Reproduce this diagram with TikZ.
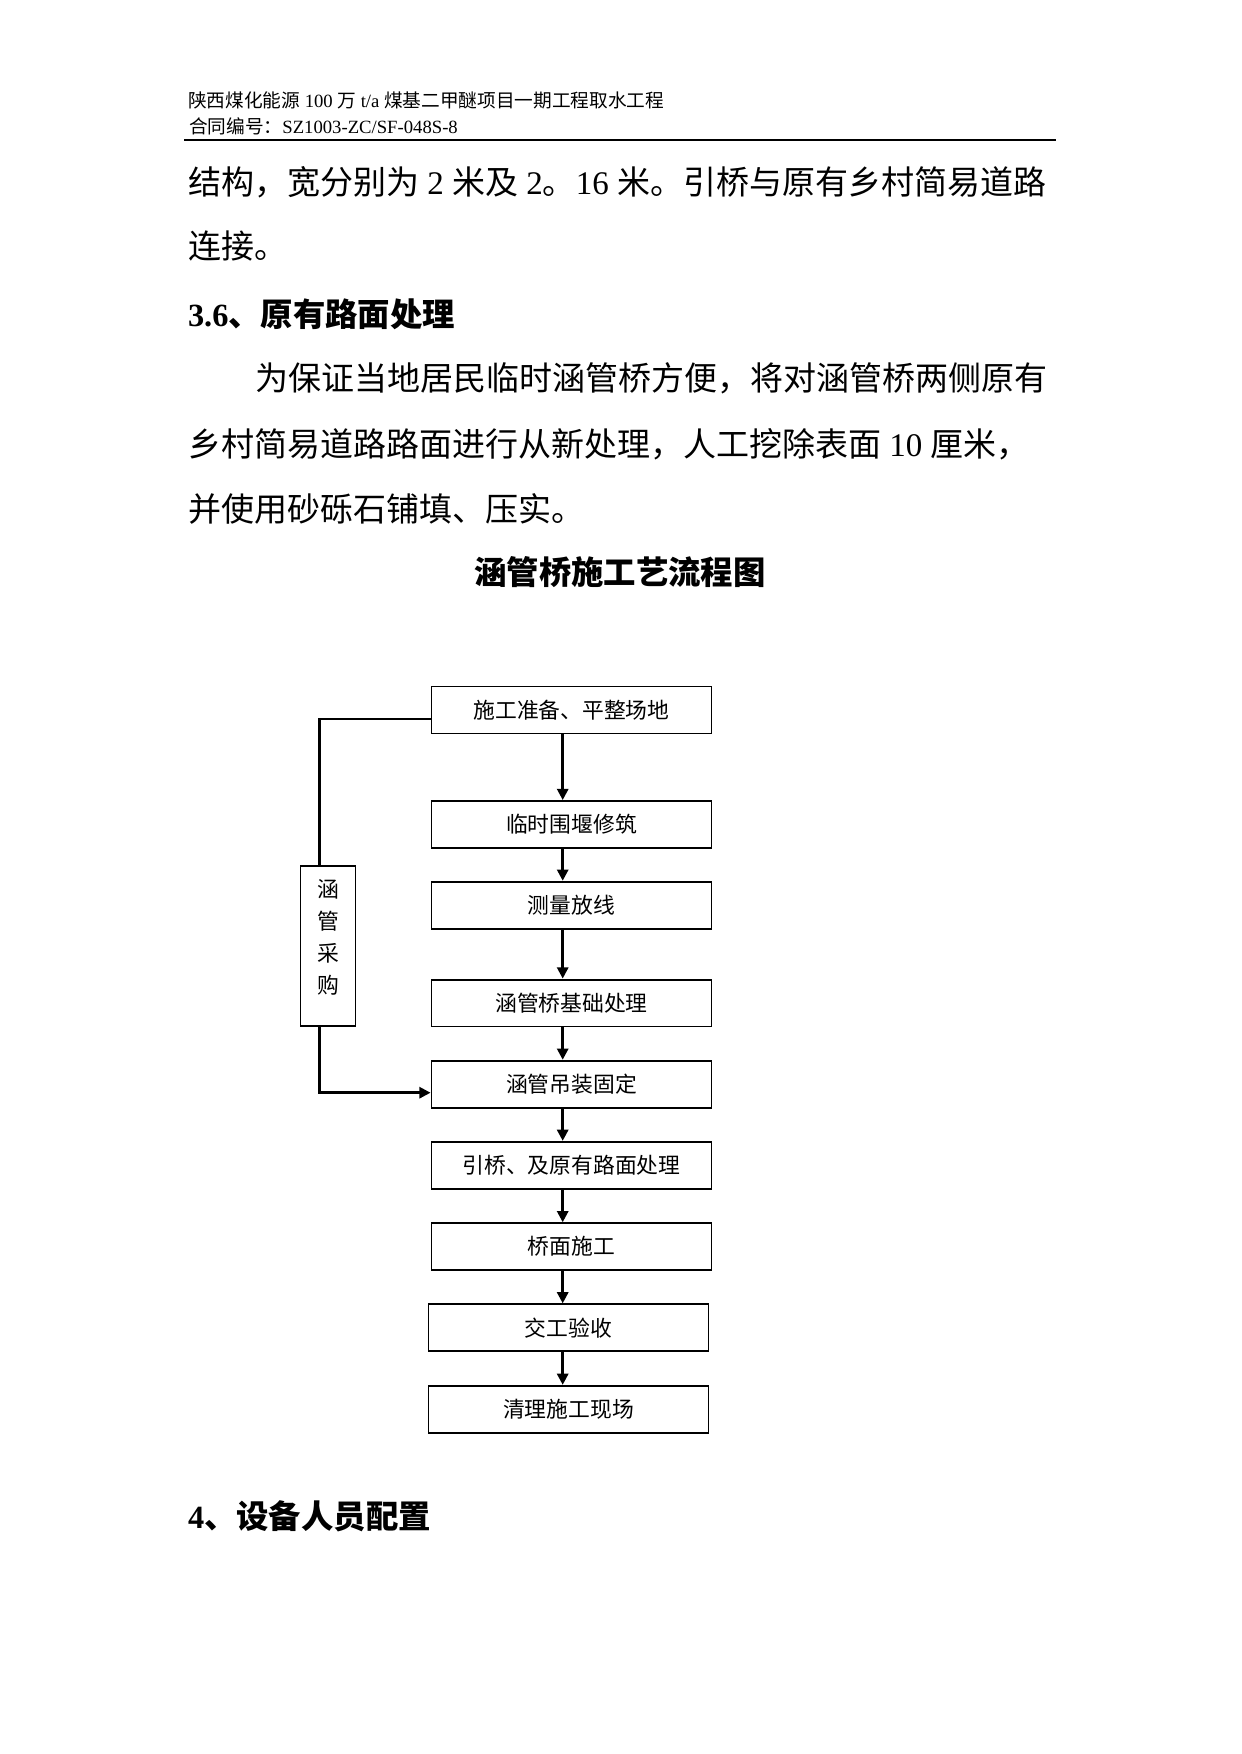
\documentclass[tikz,border=0pt]{standalone}
\usepackage{fontspec}
\setmainfont{Liberation Serif}
\newfontfamily\cjk{Noto Sans CJK SC}
\usetikzlibrary{arrows.meta,calc}
\begin{document}
\begin{tikzpicture}[x=0.4818pt,y=-0.4818pt,
  txt/.style={anchor=base west,inner sep=0pt,outer sep=0pt},
  hdr/.style={txt,font=\fontsize{9pt}{11pt}\selectfont},
  body/.style={txt,font=\fontsize{15.9pt}{18pt}\selectfont},
  head/.style={txt,font=\fontsize{15.6pt}{18pt}\selectfont\bfseries},
  stepbox/.style={draw,line width=0.95pt,minimum width=134.9pt,minimum height=22.64pt,inner sep=0pt,
    font=\fontsize{10.5pt}{12pt}\selectfont\cjk},
  sidebox/.style={draw,line width=0.95pt,minimum width=26.5pt,minimum height=77.1pt,inner sep=0pt},
  conn/.style={line width=1.2pt},
  arr/.style={conn,-{Triangle[width=5.4pt,length=5.4pt]}}]
\useasboundingbox (0,0) rectangle (1241,1754);
% header
\node[hdr] (h1) at (188,108) {{\cjk 陕西煤化能源} 100 {\cjk 万} t/a {\cjk 煤基二甲醚项目一期工程取水工程}};
\node[hdr] (h2) at (189,133.5) {{\cjk 合同编号：}SZ1003-ZC/SF-048S-8};
\draw[line width=1pt] (184,140) coordinate (r1) -- (1056,140) coordinate (r2);
% body
\node[body] (l1) at (188,194.8) {{\cjk 结构，宽分别为} 2 {\cjk 米及} 2{\cjk 。}16 {\cjk 米。引桥与原有乡村简易道路}};
\node[body] (l2) at (188,258.6) {\cjk 连接。};
\node[head] (hd1) at (188,326.8) {3.6{\cjk\bfseries 、原有路面处理}};
\node[body] (p1) at (255,390.6) {\cjk 为保证当地居民临时涵管桥方便，将对涵管桥两侧原有};
\node[body] (p2) at (188,456.6) {{\cjk 乡村简易道路路面进行从新处理，人工挖除表面} 10 {\cjk 厘米，}};
\node[body] (p3) at (188,521.5) {\cjk 并使用砂砾石铺填、压实。};
\node[font=\fontsize{15.6pt}{18pt}\selectfont\cjk\bfseries,inner sep=0pt] (title) at (620,571.7) {涵管桥施工艺流程图};
\node[head] (hd2) at (188,1528.5) {4{\cjk\bfseries 、设备人员配置}};
% flowchart
\node[stepbox] (b1) at (571.5,710) {施工准备、平整场地};
\node[stepbox] (b2) at (571.5,824.5) {临时围堰修筑};
\node[stepbox] (b3) at (571.5,905.2) {测量放线};
\node[stepbox] (b4) at (571.5,1003) {涵管桥基础处理};
\node[stepbox] (b5) at (571.5,1084.2) {涵管吊装固定};
\node[stepbox] (b6) at (571.5,1165.3) {引桥、及原有路面处理};
\node[stepbox] (b7) at (571.5,1246.7) {桥面施工};
\node[stepbox] (b8) at (568.5,1327.8) {交工验收};
\node[stepbox] (b9) at (568.5,1409.3) {清理施工现场};
\node[sidebox,label={[name=sidetxt,yshift=4pt,align=center,inner sep=0pt,font=\fontsize{10.5pt}{15.4pt}\selectfont\cjk]center:涵\\管\\采\\购}] (side) at (328,946) {};
\coordinate (ax) at (562.7,0);
\coordinate (lx) at (319.3,0);
\draw[arr] (b1.south -| ax) -- (b2.north -| ax);
\draw[arr] (b2.south -| ax) -- (b3.north -| ax);
\draw[arr] (b3.south -| ax) -- (b4.north -| ax);
\draw[arr] (b4.south -| ax) -- (b5.north -| ax);
\draw[arr] (b5.south -| ax) -- (b6.north -| ax);
\draw[arr] (b6.south -| ax) -- (b7.north -| ax);
\draw[arr] (b7.south -| ax) -- (b8.north -| ax);
\draw[arr] (b8.south -| ax) -- (b9.north -| ax);
\draw[conn] ($(b1.west)+(0,9)$) -| (side.north -| lx);
\draw[arr] (side.south -| lx) |- ($(b5.west)+(0,8.5)$);
\end{tikzpicture}
\end{document}
